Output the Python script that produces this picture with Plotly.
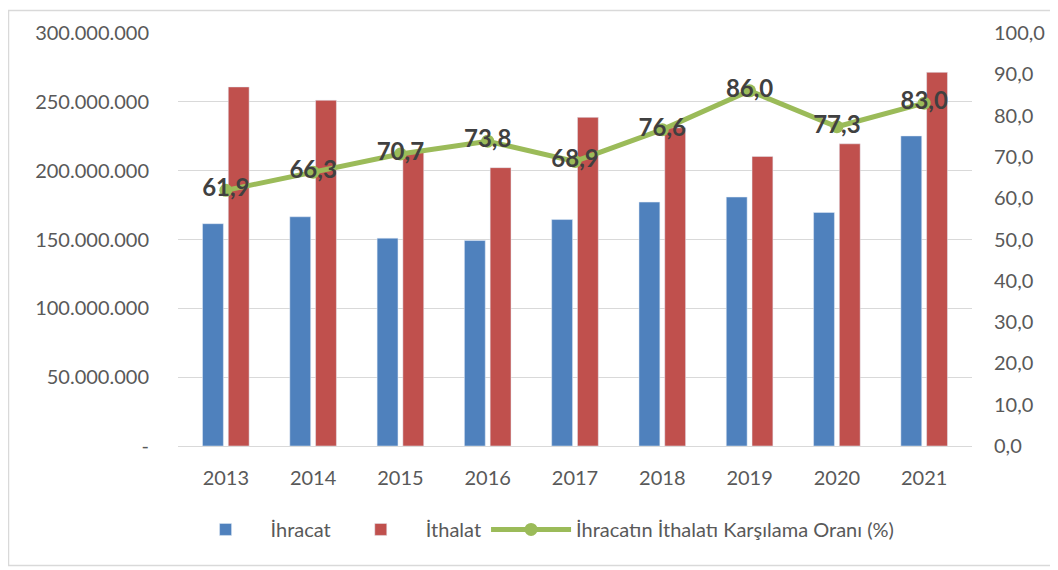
import plotly.graph_objects as go

years = ["2013", "2014", "2015", "2016", "2017", "2018", "2019", "2020", "2021"]
ihracat = [161480915, 166504862, 150982114, 149246999, 164494619, 177168756, 180832722, 169637755, 225214458]
ithalat = [260822803, 251142452, 213619037, 202189257, 238715128, 231152483, 210345203, 219514092, 271424483]
oran = [61.9, 66.3, 70.7, 73.8, 68.9, 76.6, 86.0, 77.3, 83.0]

left_ticks = [0, 50000000, 100000000, 150000000, 200000000, 250000000, 300000000]
left_labels = ["-", "50.000.000", "100.000.000", "150.000.000", "200.000.000", "250.000.000", "300.000.000"]
right_ticks = [0, 10, 20, 30, 40, 50, 60, 70, 80, 90, 100]
right_labels = ["0,0", "10,0", "20,0", "30,0", "40,0", "50,0", "60,0", "70,0", "80,0", "90,0", "100,0"]
oran_labels = [f"{v:.1f}".replace(".", ",") for v in oran]

FONT = "Lato, Carlito, 'Liberation Sans', sans-serif"

W, H = 1050, 562
L, R, T, B = 170, 86, 23, 124

fig = go.Figure()
fig.add_trace(go.Bar(x=years, y=ihracat, name="İhracat", marker_color="#4F81BD"))
fig.add_trace(go.Bar(x=years, y=ithalat, name="İthalat", marker_color="#C0504D"))
fig.add_trace(go.Scatter(
    x=years, y=oran, name="İhracatın İthalatı Karşılama Oranı (%)", yaxis="y2",
    mode="lines+markers+text", text=oran_labels, textposition="middle center",
    textfont=dict(family=FONT, size=24, color="#404040", weight="bold"),
    line=dict(color="#9BBB59", width=5), marker=dict(color="#9BBB59", size=13),
))

pw = W - L - R
ph = H - T - B

fig.update_layout(
    width=W, height=H,
    margin=dict(l=L, r=R, t=T, b=B),
    paper_bgcolor="white", plot_bgcolor="white",
    font=dict(family=FONT, size=20, color="#595959"),
    barmode="group", bargap=0.41, bargroupgap=0.19,
    showlegend=True,
    legend=dict(orientation="h", x=0.456, xanchor="center", y=-0.202, yanchor="middle",
                font=dict(size=20, color="#595959"), itemwidth=80, traceorder="normal"),
    xaxis=dict(showgrid=False, showline=True, linecolor="#D9D9D9", linewidth=1,
               ticks="", ticklabelstandoff=14),
    yaxis=dict(range=[0, 300000000], tickvals=left_ticks, ticktext=left_labels,
               showgrid=True, gridcolor="#D9D9D9", gridwidth=1, zeroline=False,
               ticks="", ticklabelstandoff=28),
    yaxis2=dict(range=[0, 100], tickvals=right_ticks, ticktext=right_labels,
                overlaying="y", side="right", showgrid=False, zeroline=False,
                ticks="", ticklabelstandoff=21),
    shapes=[dict(type="rect", xref="paper", yref="paper",
                 x0=(0.5 - L) / pw, x1=(W - 3 - L) / pw,
                 y0=(H - B - (H - 4)) / ph, y1=(H - B - 0.5) / ph,
                 line=dict(color="#D9D9D9", width=1.5), fillcolor="rgba(0,0,0,0)", layer="below")],
)

fig.write_html("out.html")
